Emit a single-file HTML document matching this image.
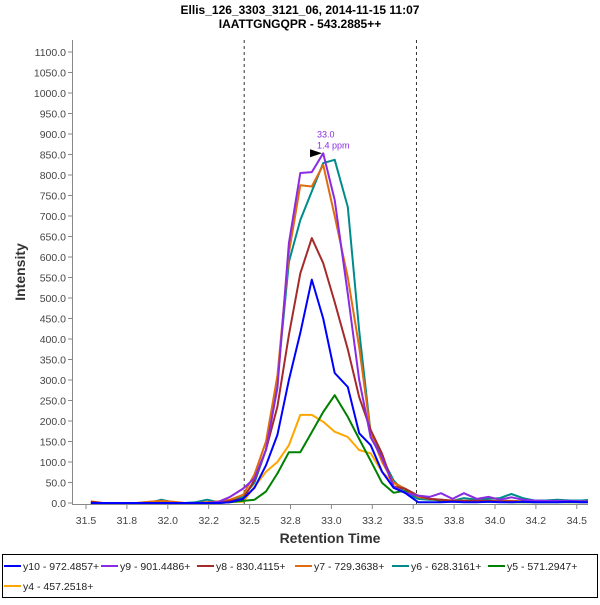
<!DOCTYPE html>
<html><head><meta charset="utf-8"><style>
body{margin:0;background:#fff;width:600px;height:600px;overflow:hidden;font-family:"Liberation Sans",sans-serif}
svg text{font-family:"Liberation Sans",sans-serif}
</style></head><body>
<svg id="c" width="600" height="600" xmlns="http://www.w3.org/2000/svg">
<text x="300" y="14" text-anchor="middle" font-size="12" font-weight="bold">Ellis_126_3303_3121_06, 2014-11-15 11:07</text>
<text x="300" y="28" text-anchor="middle" font-size="12" font-weight="bold">IAATTGNGQPR - 543.2885++</text>
<text transform="translate(25,272) rotate(-90)" text-anchor="middle" font-size="14" font-weight="bold" fill="#333">Intensity</text>
<text x="330" y="543" text-anchor="middle" font-size="14" font-weight="bold" fill="#333">Retention Time</text>
<g id="yt"></g><g id="xt"></g>
<line x1="72.5" y1="40" x2="72.5" y2="504" stroke="#888"/>
<line x1="72" y1="504.5" x2="588" y2="504.5" stroke="#888"/>
<defs><clipPath id="pc"><rect x="73" y="40" width="515" height="464"/></clipPath></defs>
<g id="marks" clip-path="url(#pc)"></g>
<g id="ann"></g>
<rect x="2.5" y="554.5" width="595" height="43" fill="none" stroke="#000"/>
<g id="leg"></g>
</svg>
<script>
const times=[31.53,31.60,31.67,31.74,31.81,31.89,31.96,32.03,32.10,32.17,32.24,32.31,32.38,32.46,32.53,32.60,32.67,32.74,32.81,32.88,32.95,33.02,33.10,33.17,33.24,33.31,33.38,33.45,33.53,33.60,33.67,33.74,33.81,33.89,33.96,34.03,34.10,34.17,34.24,34.31,34.38,34.46,34.53,34.60];
const y10=[0,0,0,0,0,0,0,0,0,0,0,0,2,10,37,92,166,300,415,545,450,317,283,170,141,76,37,25,2,2,2,3,2,2,3,2,2,3,2,2,2,3,2,2];
const y9=[0,0,0,0,0,0,0,0,0,0,0,3,15,35,60,130,280,634,805,807,853,739,510,300,160,110,40,25,18,15,24,10,24,10,15,8,14,8,6,5,5,5,4,4];
const y8=[3,0,0,0,0,0,0,0,0,0,0,0,5,10,56,130,235,410,560,646,585,490,375,258,178,120,40,35,18,10,8,5,5,5,5,4,4,3,3,3,3,3,3,3];
const y7=[4,0,0,0,0,3,5,3,0,0,2,4,8,20,70,150,310,610,775,772,825,700,550,380,170,100,50,35,15,10,8,6,5,5,5,5,5,4,4,4,4,4,4,4];
const y6=[0,0,0,0,0,0,8,2,0,2,8,2,5,15,50,130,300,588,690,760,829,837,722,420,170,110,55,25,10,8,8,5,12,8,10,12,22,12,6,6,8,6,6,8];
const y5=[0,0,0,0,0,0,0,0,0,0,0,0,2,5,8,28,72,124,124,173,222,263,210,156,103,49,25,30,15,10,5,4,3,3,3,3,2,2,2,2,2,2,2,2];
const y4=[0,0,0,0,0,3,5,3,0,0,2,2,3,3,40,76,100,141,215,215,198,174,161,129,121,76,49,30,15,10,8,5,5,5,5,5,5,4,4,4,4,4,4,4];
const seriesNames=["y10 - 972.4857+","y9 - 901.4486+","y8 - 830.4115+","y7 - 729.3638+","y6 - 628.3161+","y5 - 571.2947+","y4 - 457.2518+"];
const seriesData=[y10,y9,y8,y7,y6,y5,y4];
const colors=["#0000ff","#8a2be2","#a52a2a","#e06c10","#008b8b","#008000","#ffa500"];
const yTicks=[0,50,100,150,200,250,300,350,400,450,500,550,600,650,700,750,800,850,900,950,1000,1050,1100];
const xTickVals=[31.5,31.75,32.0,32.25,32.5,32.75,33.0,33.25,33.5,33.75,34.0,34.25,34.5];
const xTickLabels=["31.5","31.8","32.0","32.2","32.5","32.8","33.0","33.2","33.5","33.8","34.0","34.2","34.5"];
const markerLines=[32.467,33.52];
const peakTime=32.955, peakVal=853;
const X=t=>86+(t-31.5)*163.6;
const Y=v=>503-v*0.41;
const NS="http://www.w3.org/2000/svg";
function mk(tag,attrs,parent){const e=document.createElementNS(NS,tag);for(const k in attrs)e.setAttribute(k,attrs[k]);parent.appendChild(e);return e;}
const yt=document.getElementById('yt');
yTicks.forEach(v=>{
  const l=mk('line',{x1:68,x2:72,y1:Y(v),y2:Y(v),stroke:'#888'},yt);
  
  
  const t=mk('text',{x:66,y:Y(v)+4,'text-anchor':'end','font-size':'10.5',fill:'#444'},yt);
  t.textContent=v.toFixed(1);
  
  
});
const xt=document.getElementById('xt');
xTickVals.forEach((v,i)=>{
  const l=mk('line',{x1:X(v),x2:X(v),y1:505,y2:509,stroke:'#888'},xt);
  
  
  const t=mk('text',{x:X(v),y:524,'text-anchor':'middle','font-size':'10.5',fill:'#444'},xt);
  t.textContent=xTickLabels[i];
  
  
});
const marks=document.getElementById('marks');
markerLines.forEach(m=>{
  const l=mk('line',{x1:X(m),x2:X(m),y1:40,y2:504,stroke:'#333','stroke-dasharray':'3,3'},marks);
  
  
});
for(let s=seriesData.length-1;s>=0;s--){
  const pts=times.map((t,i)=>X(t).toFixed(1)+','+Y(seriesData[s][i]).toFixed(1)).join(' ');
  const p=mk('polyline',{points:pts,fill:'none',stroke:colors[s],'stroke-width':2,'stroke-linejoin':'round'},marks);
  
  
}
const ann=document.getElementById('ann');
const px=X(peakTime),py=Y(peakVal);
const tri=mk('polygon',{points:`${px-2},${py} ${px-14},${py-4} ${px-14},${py+4}`,fill:'#000'},ann);


const a1=mk('text',{x:px-7,y:py-16,'font-size':'9',fill:'#8a2be2'},ann);a1.textContent='33.0';


const a2=mk('text',{x:px-7,y:py-5,'font-size':'9',fill:'#8a2be2'},ann);a2.textContent='1.4 ppm';


const leg=document.getElementById('leg');
const legX=[4,101,197,295,392,488,4],legY=[566,566,566,566,566,566,586];
seriesNames.forEach((n,i)=>{
  const g=mk('g',{},leg);
  
  
  mk('line',{x1:legX[i],x2:legX[i]+17,y1:legY[i],y2:legY[i],stroke:colors[i],'stroke-width':2},g);
  const t=mk('text',{x:legX[i]+19,y:legY[i]+4,'font-size':'10.5',fill:'#222'},g);
  t.textContent=n;
});
</script>
</body></html>
